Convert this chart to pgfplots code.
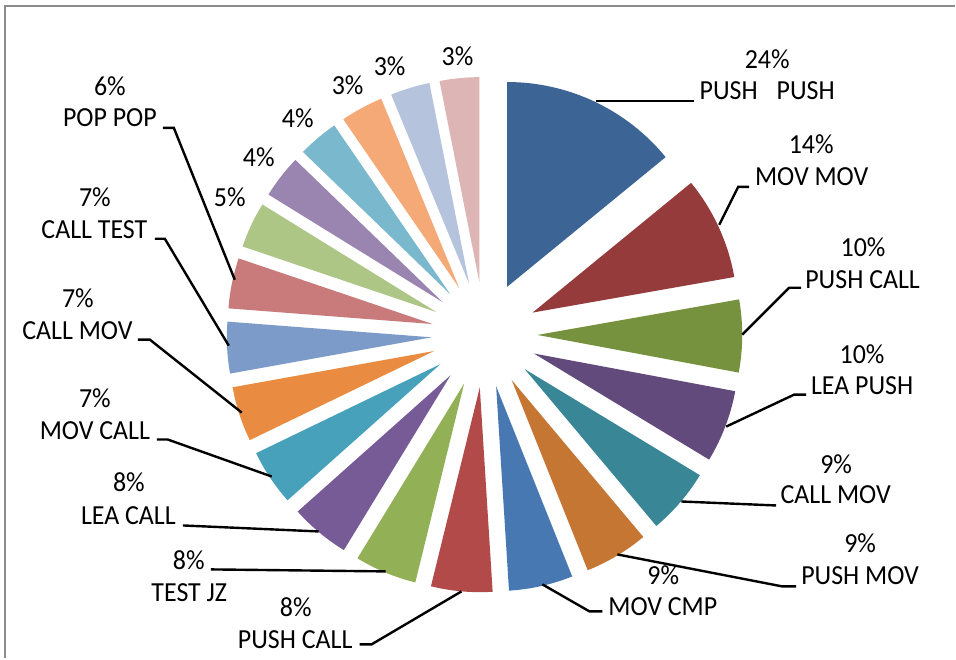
\documentclass[border=0pt]{standalone}
\usepackage{fontspec}
\setmainfont{Carlito}[FakeStretch=0.94]
\usepackage{pgfplots}
\usepackage{pgfplotstable}
\pgfplotsset{compat=1.18}
\definecolor{c1}{HTML}{3C6595}
\definecolor{c2}{HTML}{953B3B}
\definecolor{c3}{HTML}{77923F}
\definecolor{c4}{HTML}{624B7C}
\definecolor{c5}{HTML}{388696}
\definecolor{c6}{HTML}{C47632}
\definecolor{c7}{HTML}{4878B2}
\definecolor{c8}{HTML}{B24A4A}
\definecolor{c9}{HTML}{92B055}
\definecolor{c10}{HTML}{775B96}
\definecolor{c11}{HTML}{47A1BA}
\definecolor{c12}{HTML}{E98C41}
\definecolor{c13}{HTML}{7D9BC8}
\definecolor{c14}{HTML}{C97B7B}
\definecolor{c15}{HTML}{ADC585}
\definecolor{c16}{HTML}{9985B0}
\definecolor{c17}{HTML}{7AB8CE}
\definecolor{c18}{HTML}{F5A977}
\definecolor{c19}{HTML}{B5C3DD}
\definecolor{c20}{HTML}{DDB5B5}
\definecolor{frame}{HTML}{8C8C8C}
% slice sizes (degrees, clockwise from 12 o'clock)
\pgfplotstableread{
val col
50.7 c1
29.3 c2
20.6 c3
20.6 c4
18.8 c5
18.2 c6
18.2 c7
17.4 c8
17.6 c9
16.9 c10
15.9 c11
15.6 c12
14.6 c13
14.3 c14
13.0 c15
12.3 c16
11.5 c17
12.1 c18
11.2 c19
11.2 c20
}\slices
\newcommand\lf{\fontsize{13.8}{16}\selectfont}
\newcommand\lab[3]{\node[anchor=base,inner sep=0pt,font=\lf] at (axis cs:#1,#2) {#3};}
\begin{document}
\begin{tikzpicture}
\begin{axis}[hide axis, x=0.5pt, y=0.5pt, xmin=0, xmax=956, ymin=0, ymax=659,
  scale only axis, clip=false, enlargelimits=false]
\fill[white] (axis cs:0,0) rectangle (axis cs:956,659);
\draw[frame, line width=1pt] (axis cs:5,0) -- (axis cs:5,653) -- (axis cs:956,653);
\xdef\cum{90}
\pgfplotsforeachungrouped \ii in {0,...,19}{%
  \pgfplotstablegetelem{\ii}{val}\of\slices \let\sv\pgfplotsretval
  \pgfplotstablegetelem{\ii}{col}\of\slices \let\sc\pgfplotsretval
  \pgfmathsetmacro\s{\cum}%
  \pgfmathsetmacro\e{\cum-\sv}%
  \pgfmathsetmacro\m{(\s+\e)/2}%
  \pgfmathsetmacro\ax{485+53*cos(\m)}%
  \pgfmathsetmacro\ay{324+53*sin(\m)}%
  \pgfmathsetmacro\bx{\ax+205*cos(\s)}%
  \pgfmathsetmacro\by{\ay+205*sin(\s)}%
  \edef\tmp{\noexpand\fill[\sc] (axis cs:\ax,\ay) -- (axis cs:\bx,\by) arc[start angle=\s, end angle=\e, radius=102.5pt] -- cycle;}%
  \tmp
  \xdef\cum{\e}%
}
% leader lines
\begin{scope}[line width=1.2pt, black]
\draw (axis cs:597,558) -- (axis cs:695,558);
\draw (axis cs:720,434) -- (axis cs:739,472) -- (axis cs:750,472);
\draw (axis cs:743,324) -- (axis cs:790,371) -- (axis cs:802,371);
\draw (axis cs:727,232) -- (axis cs:795,264) -- (axis cs:807,264);
\draw (axis cs:682,157) -- (axis cs:777,153);
\draw (axis cs:618,104) -- (axis cs:783,72) -- (axis cs:797,72);
\draw (axis cs:543,74) -- (axis cs:590,47) -- (axis cs:603,47);
\draw (axis cs:462,67) -- (axis cs:372,14) -- (axis cs:360,14);
\draw (axis cs:386,87) -- (axis cs:211,89);
\draw (axis cs:319,127) -- (axis cs:183,133);
\draw (axis cs:272,182) -- (axis cs:168,219) -- (axis cs:157,219);
\draw (axis cs:242,246) -- (axis cs:150,319) -- (axis cs:138,319);
\draw (axis cs:229,313) -- (axis cs:165,420) -- (axis cs:155,420);
\draw (axis cs:235,379) -- (axis cs:174,531) -- (axis cs:163,531);
\end{scope}
% labels
\lab{768}{590.5}{24\%}
\lab{768}{559.5}{PUSH\hspace{9.5pt}PUSH}
\lab{812}{505.5}{14\%}
\lab{812.5}{473}{MOV MOV}
\lab{864}{402.5}{10\%}
\lab{863.5}{370}{PUSH CALL}
\lab{863}{295.5}{10\%}
\lab{863}{264.5}{LEA PUSH}
\lab{837}{185.5}{9\%}
\lab{836.5}{154.5}{CALL MOV}
\lab{861}{105.5}{9\%}
\lab{861}{73.5}{PUSH MOV}
\lab{664}{73.5}{9\%}
\lab{663.5}{42.5}{MOV CMP}
\lab{296}{41.5}{8\%}
\lab{295.5}{9.5}{PUSH CALL}
\lab{189}{88.5}{8\%}
\lab{189.5}{56.5}{TEST JZ}
\lab{129}{166.5}{8\%}
\lab{128.5}{133.5}{LEA CALL}
\lab{95}{251.5}{7\%}
\lab{95}{219.5}{MOV CALL}
\lab{78}{351.5}{7\%}
\lab{77.5}{319.5}{CALL MOV}
\lab{95}{452.5}{7\%}
\lab{94.5}{420.5}{CALL TEST}
\lab{110}{563.5}{6\%}
\lab{110}{532}{POP POP}
\lab{230}{452.5}{5\%}
\lab{259}{492.5}{4\%}
\lab{298}{531}{4\%}
\lab{348}{564.5}{3\%}
\lab{390}{583.5}{3\%}
\lab{458}{593.5}{3\%}
\end{axis}
\end{tikzpicture}
\end{document}
